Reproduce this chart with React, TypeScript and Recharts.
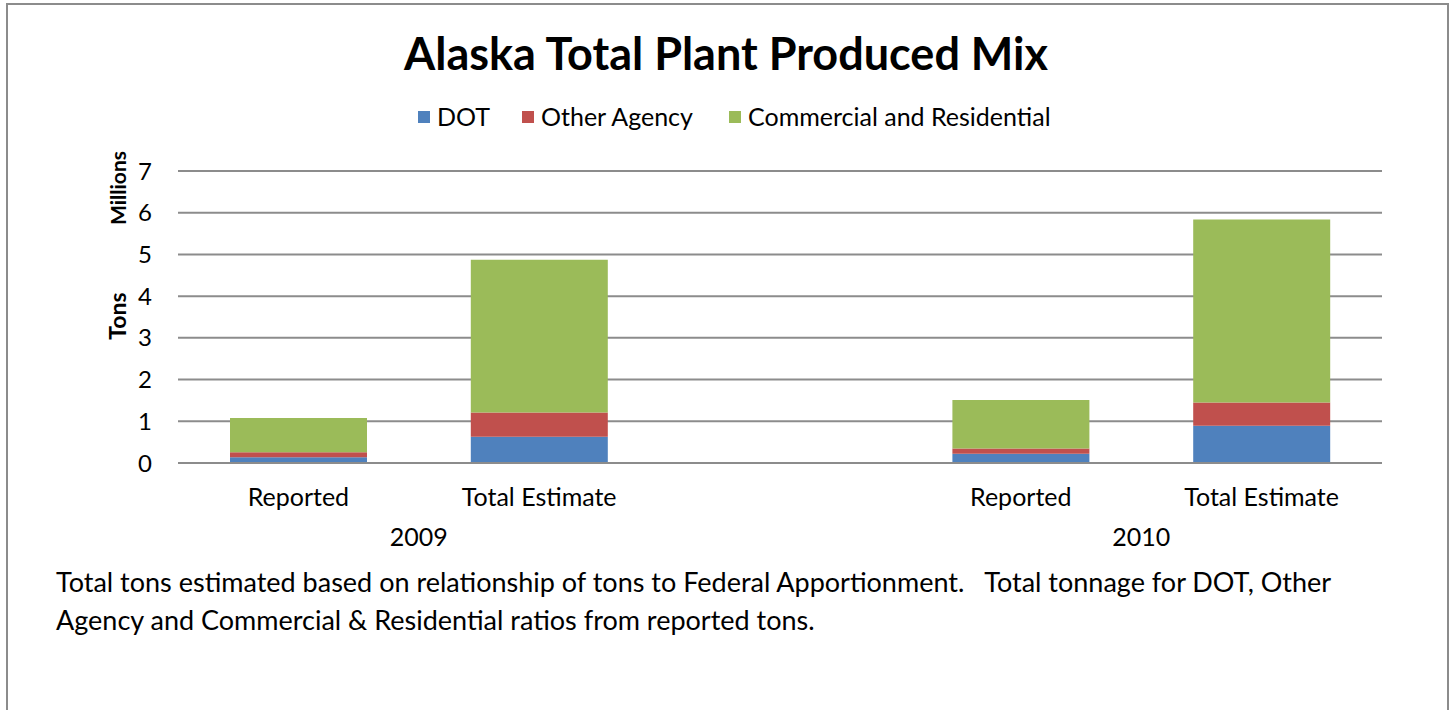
import React from 'react';
import { BarChart, Bar, XAxis, YAxis, CartesianGrid, Legend } from 'recharts';

const categories = ['Reported', 'Total Estimate', '', 'Reported', 'Total Estimate'];
const years = ['2009', '2009', '', '2010', '2010'];
const dotValues = [0.14, 0.63, null, 0.22, 0.89];
const otherAgencyValues = [0.12, 0.58, null, 0.13, 0.56];
const commercialValues = [0.82, 3.66, null, 1.16, 4.39];
const yTicks = [0, 1, 2, 3, 4, 5, 6, 7];

const colors = {
  dot: '#4F81BD',
  other: '#C0504D',
  commercial: '#9BBB59',
};

const W = 1452;
const H = 710;
const M = { top: 171, right: 70, left: 118, bottom: 207 };
const FONT = 'Lato, "Open Sans", sans-serif';

const data = categories.map((name, i) => ({
  name,
  year: years[i],
  dot: dotValues[i],
  other: otherAgencyValues[i],
  commercial: commercialValues[i],
}));

const catWidth = (W - M.left - 60 - M.right) / data.length;

const CategoryTick = (props: any) => {
  const { x, y, payload, index } = props;
  const showYear = years[index] && years[index + 1] === years[index];
  return (
    <g>
      <text x={x} y={y + 35} textAnchor="middle" fill="#000" fontSize={25} fontFamily={FONT}>
        {payload.value}
      </text>
      {showYear && (
        <text x={x + catWidth / 2} y={y + 75} textAnchor="middle" fill="#000" fontSize={25} fontFamily={FONT}>
          {years[index]}
        </text>
      )}
    </g>
  );
};

const LegendContent = () => {
  const items = [
    { label: 'DOT', color: colors.dot, w: 104 },
    { label: 'Other Agency', color: colors.other, w: 207 },
    { label: 'Commercial and Residential', color: colors.commercial, w: 340 },
  ];
  return (
    <div style={{ display: 'flex', justifyContent: 'flex-start', fontFamily: FONT, fontSize: 25, lineHeight: '28px' }}>
      {items.map((it) => (
        <div key={it.label} style={{ display: 'flex', alignItems: 'center', width: it.w }}>
          <span style={{ display: 'inline-block', width: 12, height: 12, background: it.color, marginRight: 7, marginTop: 2 }} />
          <span style={{ color: '#000' }}>{it.label}</span>
        </div>
      ))}
    </div>
  );
};

const App = () => {
  return (
    <div style={{ position: 'absolute', left: 0, top: 0, width: W, height: H, background: '#fff', overflow: 'hidden' }}>
      <div
        style={{
          position: 'absolute',
          left: 6,
          top: 3,
          width: 1439,
          height: 760,
          border: '2px solid #8c8c8c',
        }}
      />
      <svg width={W} height={H} style={{ position: 'absolute', left: 0, top: 0 }}>
        <text x={W / 2} y={70} textAnchor="middle" fontSize={45} fontWeight="bold" fontFamily={FONT} fill="#000">
          Alaska Total Plant Produced Mix
        </text>
        <text
          transform="translate(126, 316) rotate(-90)"
          textAnchor="middle"
          fontSize={23}
          fontWeight="bold"
          fontFamily={FONT}
          fill="#000"
        >
          Tons
        </text>
        <text
          transform="translate(126, 188) rotate(-90)"
          textAnchor="middle"
          fontSize={21}
          fontWeight="bold"
          fontFamily={FONT}
          fill="#000"
        >
          Millions
        </text>
        <text x={56} y={592} fontSize={27} fontFamily={FONT} fill="#000" style={{ whiteSpace: 'pre' }}>
          {'Total tons estimated based on relationship of tons to Federal Apportionment.   Total tonnage for DOT, Other'}
        </text>
        <text x={56} y={630} fontSize={27} fontFamily={FONT} fill="#000">
          Agency and Commercial &amp; Residential ratios from reported tons.
        </text>
      </svg>
      <div style={{ position: 'absolute', left: 0, top: 0 }}>
        <BarChart width={W} height={H} data={data} margin={M} barSize={137}>
          <CartesianGrid horizontal vertical={false} stroke="#8c8c8c" strokeWidth={2} />
          <XAxis
            dataKey="name"
            axisLine={{ stroke: '#8c8c8c', strokeWidth: 2 }}
            tickLine={false}
            tick={<CategoryTick />}
            interval={0}
            height={40}
          />
          <YAxis
            width={60}
            domain={[0, 7]}
            ticks={yTicks}
            axisLine={false}
            tickLine={false}
            tick={{ fill: '#000', fontSize: 24, fontFamily: FONT }}
            tickMargin={20}
          />
          <Legend
            verticalAlign="middle"
            align="center"
            layout="horizontal"
            content={<LegendContent />}
            wrapperStyle={{ top: 102, left: 418, width: 720, height: 28 }}
          />
          <Bar dataKey="dot" name="DOT" stackId="a" fill={colors.dot} isAnimationActive={false} />
          <Bar dataKey="other" name="Other Agency" stackId="a" fill={colors.other} isAnimationActive={false} />
          <Bar dataKey="commercial" name="Commercial and Residential" stackId="a" fill={colors.commercial} isAnimationActive={false} />
        </BarChart>
      </div>
    </div>
  );
};

export default App;
